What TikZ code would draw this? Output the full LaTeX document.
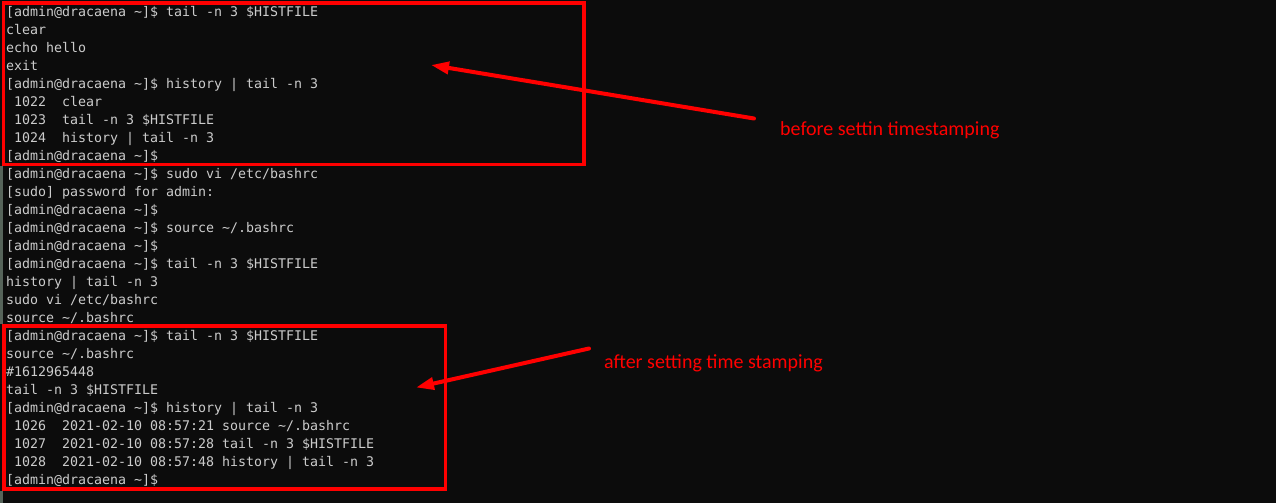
\documentclass[tikz,border=0pt]{standalone}
\usepackage{fontspec}
\usetikzlibrary{arrows.meta}
\newfontfamily\termfont{DejaVu Sans Mono}
\newfontfamily\notefont{Carlito}
\definecolor{termbg}{HTML}{0C0C0C}
\definecolor{termfg}{HTML}{CCCCCC}
\definecolor{winedge}{HTML}{56645A}
\definecolor{markred}{HTML}{FF0000}
\newcommand\prompt{[admin@dracaena \textasciitilde]\$}

\begin{document}
\begin{tikzpicture}[x=1pt,y=-1pt,
  term/.style={anchor=base west,inner sep=0,text=termfg,font=\termfont\fontsize{13.29}{18}\selectfont},
  note/.style={anchor=base west,inner sep=0,text=markred,font=\notefont\fontsize{20}{24}\selectfont},
  redbox/.style={draw=markred,line width=3.6pt},
  callout/.style={draw=markred,line width=4pt,line cap=round,-{Triangle[length=18pt,width=12pt]}}]
\useasboundingbox (0,0) rectangle (1276,503);
\fill[termbg] (0,0) rectangle (1276,503);
\fill[winedge] (0,166) rectangle (2.5,324);
\fill[winedge] (0,491) rectangle (2.5,503);
% terminal lines
\node[term] (t0)  at (6,16.3)  {\prompt{} tail -n 3 \$HISTFILE};
\node[term] (t1)  at (6,34.3)  {clear};
\node[term] (t2)  at (6,52.3)  {echo hello};
\node[term] (t3)  at (6,70.3)  {exit};
\node[term] (t4)  at (6,88.3)  {\prompt{} history | tail -n 3};
\node[term] (t5)  at (6,106.3) {~1022~~clear};
\node[term] (t6)  at (6,124.3) {~1023~~tail -n 3 \$HISTFILE};
\node[term] (t7)  at (6,142.3) {~1024~~history | tail -n 3};
\node[term] (t8)  at (6,160.3) {\prompt};
\node[term] (t9)  at (6,178.3) {\prompt{} sudo vi /etc/bashrc};
\node[term] (t10) at (6,196.3) {[sudo] password for admin:};
\node[term] (t11) at (6,214.3) {\prompt};
\node[term] (t12) at (6,232.3) {\prompt{} source \textasciitilde/.bashrc};
\node[term] (t13) at (6,250.3) {\prompt};
\node[term] (t14) at (6,268.3) {\prompt{} tail -n 3 \$HISTFILE};
\node[term] (t15) at (6,286.3) {history | tail -n 3};
\node[term] (t16) at (6,304.3) {sudo vi /etc/bashrc};
\node[term] (t17) at (6,322.3) {source \textasciitilde/.bashrc};
\node[term] (t18) at (6,340.3) {\prompt{} tail -n 3 \$HISTFILE};
\node[term] (t19) at (6,358.3) {source \textasciitilde/.bashrc};
\node[term] (t20) at (6,376.3) {\#1612965448};
\node[term] (t21) at (6,394.3) {tail -n 3 \$HISTFILE};
\node[term] (t22) at (6,412.3) {\prompt{} history | tail -n 3};
\node[term] (t23) at (6,430.3) {~1026~~2021-02-10 08:57:21 source \textasciitilde/.bashrc};
\node[term] (t24) at (6,448.3) {~1027~~2021-02-10 08:57:28 tail -n 3 \$HISTFILE};
\node[term] (t25) at (6,466.3) {~1028~~2021-02-10 08:57:48 history | tail -n 3};
\node[term] (t26) at (6,484.3) {\prompt};
% marked regions
\draw[redbox] (3.5,3) rectangle (584,164.5);
\draw[redbox] (4,326) rectangle (445.5,489);
% notes
\node[note] (before) at (780,135.5) {before settin timestamping};
\node[note] (after)  at (604,368)   {after setting time stamping};
\coordinate (before tail) at (754,118.5);
\coordinate (before tip)  at (431,65);
\coordinate (after tail)  at (589,348.5);
\coordinate (after tip)   at (416,387.5);
\draw[callout] (before tail) -- (before tip);
\draw[callout] (after tail) -- (after tip);
\end{tikzpicture}
\end{document}
